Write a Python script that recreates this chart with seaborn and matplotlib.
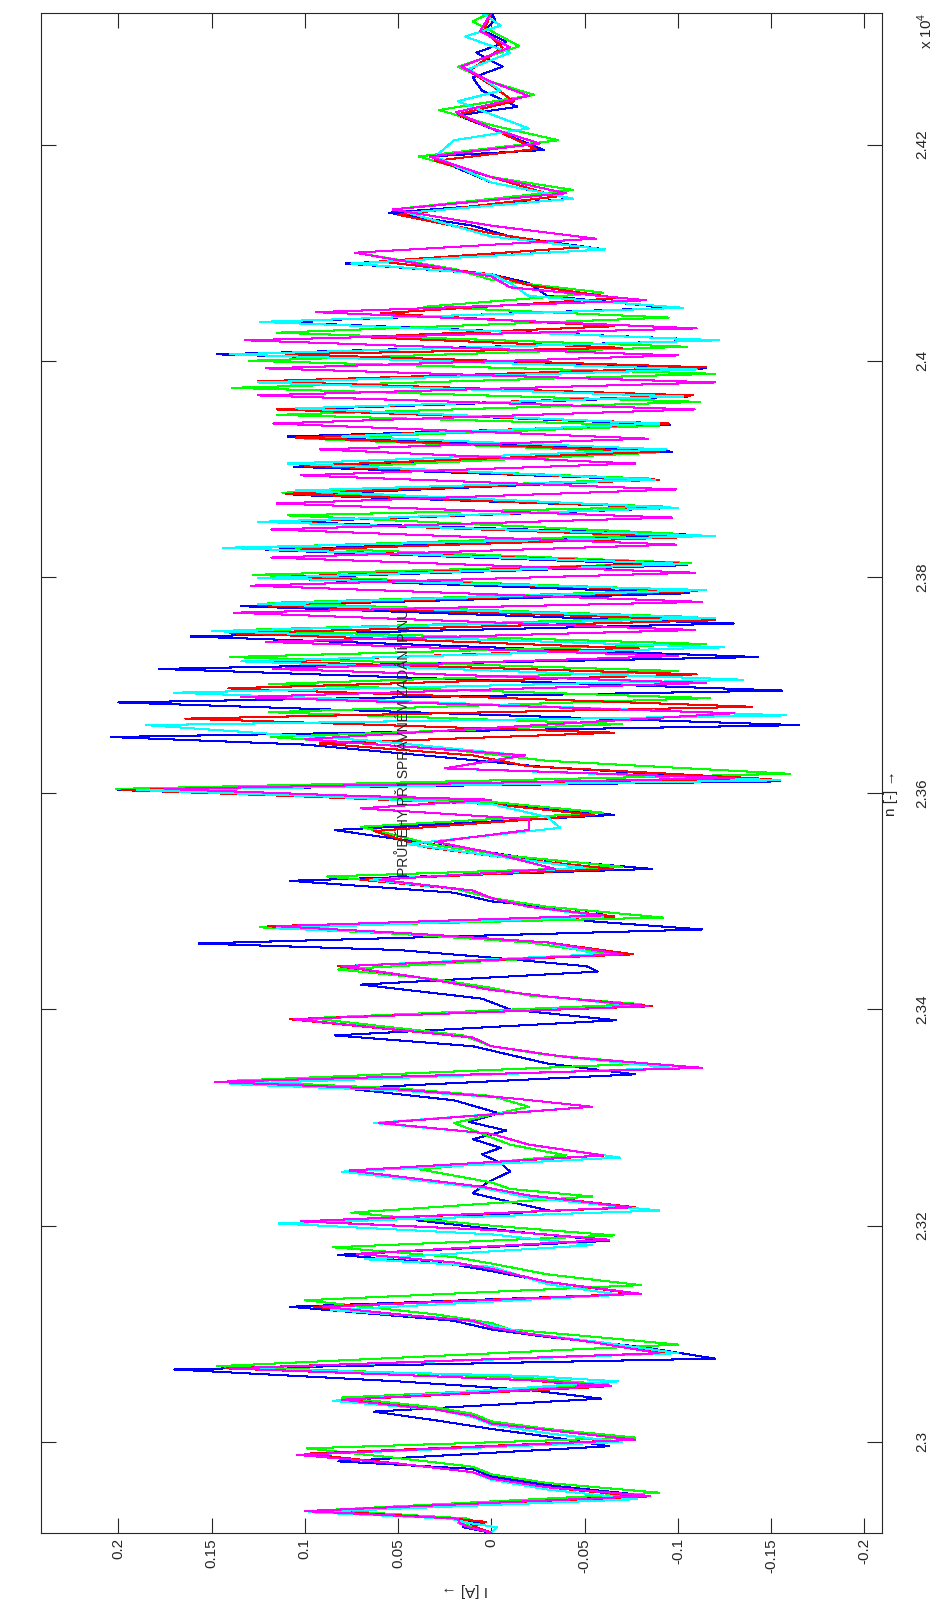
import numpy as np
import pandas as pd
import matplotlib
matplotlib.use("Agg")
import matplotlib.pyplot as plt
import seaborn as sns

# ---------------- data (sample index n, current I [A]) ----------------
n_blue = [22916, 22921, 22925, 22929, 22936, 22951, 22960, 22968, 22975, 22982, 22996, 23005, 23012, 23020, 23028,
          23040, 23048, 23056, 23067, 23077,
          23088, 23097, 23104, 23112, 23125, 23137, 23148, 23158, 23164, 23173, 23186, 23195, 23205, 23214, 23222,
          23230, 23240, 23250, 23258,
          23266, 23272, 23280, 23288, 23296, 23304, 23316, 23327, 23340, 23350, 23358, 23366, 23376, 23390, 23400,
          23410, 23423, 23435,
          23440, 23448, 23455, 23461, 23474, 23482, 23490, 23500, 23508, 23519, 23530, 23540, 23550, 23566, 23580,
          23590, 23596, 23603, 23611,
          23624, 23634, 23645, 23652, 23663, 23684, 23695, 23715, 23726, 23745, 23757, 23773, 23785,
          23799, 23811, 23825, 23839, 23851, 23864, 23876, 23890, 23902, 23916, 23930, 23941, 23955, 23967,
          23980, 23993, 24006, 24019, 24036, 24049, 24060, 24072, 24080, 24090, 24103, 24115, 24125, 24137, 24150,
          24165, 24189, 24195, 24215, 24227, 24235, 24250, 24262, 24272, 24285, 24295, 24305, 24315, 24322]
i_blue = [0.000, 0.015, 0.005, 0.022, 0.085, -0.080, -0.030, 0.000, 0.010, 0.082, -0.063, -0.030, 0.000, 0.030, 0.063,
          -0.059, -0.020, 0.050, 0.170, -0.120,
          -0.080, -0.030, 0.000, 0.020, 0.108, -0.080, -0.030, 0.000, 0.020, 0.082, -0.063, -0.010, 0.040, -0.031, -0.010,
          0.010, 0.002, -0.010, -0.005,
          0.005, -0.005, 0.010, -0.008, 0.012, -0.004, 0.020, 0.078, -0.077, -0.030, -0.010, 0.010, 0.084, -0.067, -0.010,
          0.005, 0.070, -0.057,
          -0.051, 0.000, 0.050, 0.157, -0.113, -0.050, -0.060, 0.000, 0.020, 0.108, -0.086, -0.020, 0.020, 0.084, -0.066,
          0.000, 0.080, 0.200, -0.155,
          -0.030, 0.030, 0.100, 0.204, -0.165, 0.200, -0.156, 0.178, -0.143, 0.161, -0.130, 0.134, -0.106,
          0.118, -0.105, 0.121, -0.110, 0.110, -0.100, 0.106, -0.086, 0.106, -0.097, 0.109, -0.096, 0.106, -0.105,
          0.125, -0.115, 0.147, -0.122, 0.117, -0.096, -0.030, -0.020, 0.000, 0.078, -0.061, -0.010, 0.010, 0.055, -0.044,
          0.000, 0.033, -0.028, 0.000, 0.018, -0.014, 0.005, 0.010, -0.006, 0.008, -0.008, 0.004, -0.002, 0.000]

n_green = [22916, 22921, 22925, 22929, 22937, 22953, 22962, 22970, 22977, 22985, 22994, 23004, 23012, 23019, 23026,
           23032, 23041, 23053, 23059, 23064, 23070, 23090,
           23098, 23104, 23110, 23118, 23131, 23145, 23155, 23165, 23171, 23180, 23191, 23200, 23212, 23227, 23234,
           23240, 23252, 23265,
           23275, 23285, 23295, 23310, 23320, 23327, 23334, 23350, 23358, 23366, 23376, 23392, 23405, 23413, 23420,
           23428, 23437,
           23451, 23462, 23470, 23476, 23485, 23495, 23503, 23512, 23523, 23532, 23542, 23552, 23569, 23582, 23592,
           23598, 23604, 23618,
           23630, 23640, 23652, 23664, 23675, 23688, 23701, 23713, 23726, 23738, 23751, 23763, 23776, 23788,
           23802, 23813, 23828, 23840, 23857, 23865, 23878, 23891, 23902, 23915, 23928, 23940, 23950, 23962,
           23975, 23988, 24000, 24013, 24026, 24040, 24050, 24063, 24075, 24085, 24100, 24113, 24125, 24140, 24158,
           24170, 24189, 24204, 24218, 24232, 24246, 24258, 24272, 24291, 24305, 24314, 24322]
i_green = [0.000, 0.008, 0.018, 0.012, 0.088, -0.090, -0.030, 0.000, 0.010, 0.050, 0.099, -0.077, -0.030, 0.000, 0.010,
           0.030, 0.080, -0.063, -0.020, 0.050, 0.147, -0.100,
           -0.050, -0.010, 0.000, 0.030, 0.100, -0.080, -0.030, 0.000, 0.020, 0.085, -0.066, 0.000, 0.075, -0.054, -0.010,
           0.000, 0.038, -0.040,
           -0.010, 0.005, 0.020, -0.020, 0.000, 0.050, 0.140, -0.083, -0.030, 0.000, 0.015, 0.097, -0.080, -0.020, 0.000,
           0.030, 0.082,
           -0.063, -0.020, 0.050, 0.124, -0.092, -0.030, 0.000, 0.020, 0.088, -0.070, -0.010, 0.030, 0.070, -0.060, 0.000,
           0.100, 0.201, -0.160,
           -0.030, 0.020, 0.118, -0.070, 0.119, -0.117, 0.119, -0.100, 0.140, -0.115, 0.135, -0.110, 0.120, -0.105,
           0.128, -0.107, 0.115, -0.100, 0.109, -0.095, 0.112, -0.086, 0.080, -0.088, 0.100, -0.090, 0.115, -0.112,
           0.139, -0.120, 0.130, -0.105, 0.115, -0.095, 0.036, -0.060, 0.000, 0.020, 0.073, -0.056, 0.000, 0.053, -0.044,
           0.000, 0.039, -0.036, 0.000, 0.028, -0.023, 0.000, 0.018, -0.015, 0.000, 0.010, 0.000]

n_red = [22916, 22922, 22926, 22929, 22936, 22949, 22958, 22966, 22972, 22980, 22989, 23002, 23010, 23017, 23024,
         23030, 23039, 23051, 23057, 23062, 23068, 23082,
         23092, 23100, 23106, 23112, 23118, 23125, 23137, 23148, 23160, 23166, 23174, 23187, 23196, 23204, 23217,
         23228, 23236, 23251, 23265,
         23275, 23285, 23295, 23310, 23318, 23326, 23333, 23346, 23356, 23366, 23374, 23391, 23403, 23412, 23418,
         23430, 23440,
         23451, 23462, 23470, 23477, 23486, 23495, 23503, 23510, 23520, 23530, 23540, 23550, 23565, 23580, 23590,
         23597, 23603, 23613,
         23625, 23635, 23646, 23656, 23669, 23680, 23697, 23710, 23722, 23734, 23748, 23760, 23774, 23787,
         23800, 23813, 23825, 23837, 23851, 23864, 23877, 23890, 23903, 23916, 23929, 23942, 23955, 23968,
         23981, 23994, 24006, 24012, 24022, 24032, 24044, 24058, 24070, 24080, 24092, 24105, 24118, 24135, 24152,
         24170, 24185, 24196, 24215, 24228, 24240, 24255, 24268, 24290, 24305, 24322]
i_red = [0.000, 0.010, 0.003, 0.020, 0.088, -0.083, -0.030, 0.000, 0.010, 0.050, 0.100, -0.077, -0.035, 0.000, 0.010,
         0.030, 0.078, -0.060, -0.020, 0.050, 0.142, -0.095,
         -0.060, -0.020, 0.000, 0.010, 0.050, 0.095, -0.077, -0.030, 0.000, 0.020, 0.072, -0.063, 0.000, 0.100, -0.077,
         -0.020, 0.005, 0.076, -0.061,
         -0.020, 0.000, 0.063, -0.054, -0.010, 0.050, 0.148, -0.113, -0.040, 0.000, 0.010, 0.108, -0.086, -0.030, 0.000,
         0.040, 0.082,
         -0.076, -0.030, 0.040, 0.120, -0.066, -0.020, 0.000, 0.010, 0.070, -0.065, -0.010, 0.035, 0.063, -0.055, 0.000,
         0.100, 0.198, -0.150,
         -0.020, 0.010, 0.092, -0.066, 0.164, -0.140, 0.141, -0.110, 0.120, -0.079, 0.140, -0.120, 0.125, -0.110,
         0.115, -0.100, 0.109, -0.107, 0.118, -0.098, 0.110, -0.090, 0.100, -0.090, 0.105, -0.095, 0.115, -0.108,
         0.125, -0.115, 0.110, -0.070, 0.070, -0.066, 0.059, -0.068, -0.020, 0.000, 0.060, -0.048, 0.000, 0.050, -0.035,
         0.000, 0.030, -0.024, 0.000, 0.018, -0.012, 0.000, 0.012, -0.006, 0.004, 0.000]

n_cyan = [22916, 22921, 22925, 22929, 22935, 22947, 22956, 22965, 22972, 22980, 22988, 23000, 23008, 23016, 23023,
          23030, 23038, 23056, 23061, 23064, 23068, 23082,
          23092, 23100, 23108, 23114, 23122, 23136, 23146, 23162, 23169, 23182, 23192, 23202, 23214, 23226, 23235,
          23250, 23263,
          23275, 23285, 23295, 23310, 23318, 23325, 23331, 23346, 23356, 23366, 23374, 23391, 23403, 23412, 23418,
          23430, 23440,
          23451, 23462, 23470, 23475, 23486, 23495, 23503, 23510, 23520, 23531, 23540, 23553, 23568, 23578, 23590,
          23597, 23603, 23612,
          23623, 23635, 23648, 23663, 23672, 23693, 23705, 23722, 23735, 23750, 23762, 23775, 23788,
          23799, 23812, 23827, 23838, 23851, 23864, 23880, 23890, 23905, 23918, 23930, 23942, 23956, 23967,
          23980, 23992, 24006, 24019, 24036, 24049, 24060, 24072, 24080, 24090, 24103, 24115, 24137, 24150,
          24165, 24189, 24204, 24215, 24228, 24240, 24250, 24270, 24285, 24300, 24310, 24322]
i_cyan = [0.000, -0.003, 0.012, 0.022, 0.098, -0.078, -0.030, 0.000, 0.010, 0.050, 0.104, -0.070, -0.030, 0.000, 0.010,
          0.030, 0.085, -0.068, -0.020, 0.050, 0.140, -0.100,
          -0.060, -0.020, 0.000, 0.020, 0.086, -0.069, -0.030, 0.000, 0.068, -0.054, 0.000, 0.114, -0.090, -0.020, 0.005,
          0.080, -0.069,
          -0.020, 0.000, 0.063, -0.054, -0.010, 0.050, 0.140, -0.097, -0.040, 0.000, 0.010, 0.105, -0.080, -0.030, 0.000,
          0.040, 0.080,
          -0.057, -0.030, 0.040, 0.115, -0.060, -0.020, 0.000, 0.010, 0.065, -0.050, -0.010, 0.045, -0.037, -0.030, 0.000,
          0.090, 0.190, -0.155,
          0.025, -0.017, 0.060, 0.185, -0.158, 0.170, -0.135, 0.134, -0.125, 0.150, -0.120, 0.125, -0.115,
          0.125, -0.105, 0.144, -0.120, 0.125, -0.100, 0.105, -0.088, 0.109, -0.094, 0.080, -0.090, 0.105, -0.103,
          0.125, -0.110, 0.140, -0.122, 0.124, -0.103, -0.020, -0.010, 0.000, 0.075, -0.061, 0.000, 0.045, -0.044,
          0.000, 0.030, 0.020, -0.020, 0.000, 0.018, -0.005, 0.012, -0.010, 0.014, -0.005, 0.005]

n_magenta = [22916, 22921, 22925, 22929, 22936, 22950, 22958, 22966, 22972, 22980, 22988, 23002, 23010, 23017, 23024,
             23030, 23039, 23052, 23057, 23062, 23068, 23082,
             23092, 23100, 23106, 23112, 23118, 23125, 23137, 23148, 23160, 23166, 23174, 23187, 23196, 23204, 23217,
             23228, 23236, 23251, 23265,
             23275, 23285, 23295, 23310, 23318, 23326, 23333, 23346, 23356, 23366, 23374, 23391, 23403, 23412, 23418,
             23430, 23440,
             23451, 23462, 23470, 23477, 23487, 23495, 23503, 23510, 23520, 23530, 23545, 23555, 23566, 23576, 23586,
             23594, 23598, 23604, 23614,
             23623, 23635, 23650, 23674, 23689, 23702, 23715, 23727, 23740, 23751, 23767, 23777, 23792,
             23804, 23818, 23830, 23844, 23855, 23868, 23881, 23894, 23905, 23918, 23928, 23942, 23955,
             23968, 23980, 23993, 24005, 24019, 24030, 24045, 24056, 24068, 24078, 24100, 24113, 24125, 24140, 24155,
             24170, 24189, 24201, 24215, 24230, 24245, 24258, 24272, 24290, 24305, 24322]
i_magenta = [0.000, 0.012, 0.017, 0.018, 0.100, -0.085, -0.030, 0.000, 0.010, 0.050, 0.104, -0.077, -0.035, 0.000, 0.010,
             0.030, 0.080, -0.064, -0.020, 0.050, 0.140, -0.090,
             -0.055, -0.020, 0.000, 0.010, 0.050, 0.090, -0.080, -0.030, 0.000, 0.020, 0.072, -0.063, 0.000, 0.102, -0.075,
             -0.020, 0.005, 0.076, -0.060,
             -0.020, 0.000, 0.060, -0.054, -0.010, 0.050, 0.148, -0.113, -0.040, 0.000, 0.010, 0.106, -0.084, -0.030, 0.000,
             0.040, 0.080,
             -0.070, -0.030, 0.040, 0.115, -0.060, -0.020, 0.000, 0.010, 0.060, -0.034, 0.000, 0.030, -0.020, -0.020, 0.070,
             0.000, 0.080, 0.175, -0.130,
             0.025, -0.018, 0.100, -0.130, 0.134, -0.115, 0.117, -0.100, 0.121, -0.109, 0.138, -0.113, 0.129,
             -0.109, 0.118, -0.099, 0.118, -0.097, 0.115, -0.099, 0.102, -0.077, 0.092, -0.084, 0.117, -0.109,
             0.125, -0.120, 0.121, -0.100, 0.132, -0.110, 0.094, -0.083, -0.010, 0.000, 0.073, -0.056, 0.000, 0.053, -0.040,
             0.000, 0.033, -0.026, 0.000, 0.019, -0.020, 0.000, 0.016, -0.010, 0.006, 0.000]

series_names = ["blue", "green", "red", "cyan", "magenta"]
series_colors = ["#0000ff", "#00ff00", "#ff0000", "#00ffff", "#ff00ff"]
series_n = [n_blue, n_green, n_red, n_cyan, n_magenta]
series_i = [i_blue, i_green, i_red, i_cyan, i_magenta]

i_ticks = [0.2, 0.15, 0.1, 0.05, 0.0, -0.05, -0.1, -0.15, -0.2]
i_tick_labels = ["0.2", "0.15", "0.1", "0.05", "0", "-0.05", "-0.1", "-0.15", "-0.2"]
n_ticks = [23000, 23200, 23400, 23600, 23800, 24000, 24200]
n_tick_labels = ["2.3", "2.32", "2.34", "2.36", "2.38", "2.4", "2.42"]
title_text = "PRŮBĚHY PŘI SPRÁVNÉM ZADÁNÍ PINU"
n_label = "n [-] \u2192"
i_label = "I [A] \u2192"
exp_label = r"x 10$^{4}$"

# ---------------- plotting ----------------
sns.set_style("white")
plt.rcParams["font.family"] = ["Liberation Sans", "DejaVu Sans"]
plt.rcParams["mathtext.fontset"] = "custom"
plt.rcParams["mathtext.rm"] = "Liberation Sans"

W, H = 939, 1605
fig = plt.figure(figsize=(W / 100, H / 100), dpi=100)
fig.patch.set_facecolor("white")
ax = fig.add_axes([41 / W, 1 - 1532.7 / H, (882 - 41) / W, (1532.7 - 12.7) / H])

for name, col, nn, ii in zip(series_names, series_colors, series_n, series_i):
    df = pd.DataFrame({"I": ii, "n": nn})
    sns.lineplot(data=df, x="I", y="n", sort=False, estimator=None, color=col,
                 linewidth=0.75, antialiased=False, ax=ax, legend=False)

ax.set_xlim(0.2414, -0.2094)
ax.set_ylim(22916, 24322)
ax.set_xlabel("")
ax.set_ylabel("")

ax.set_xticks(i_ticks)
ax.set_xticklabels(i_tick_labels, rotation=90, va="top", ha="center")
ax.set_yticks(n_ticks)
ax.set_yticklabels(n_tick_labels, rotation=90, va="center", ha="left")
ax.tick_params(axis="x", which="both", direction="in", length=11, width=0.8,
               top=True, bottom=True, labelbottom=True, labeltop=False,
               labelsize=11, pad=4, colors="#262626")
ax.tick_params(axis="y", which="both", direction="in", length=11, width=0.8,
               left=True, right=True, labelleft=False, labelright=True,
               labelsize=11, pad=24, colors="#262626")
for lab in ax.get_xticklabels() + ax.get_yticklabels():
    lab.set_color("#262626")
for sp in ax.spines.values():
    sp.set_visible(True)
    sp.set_linewidth(0.8)
    sp.set_color("#262626")

def px(x, y):
    return x / W, 1 - y / H

fig.text(*px(404, 742), title_text, rotation=90, ha="center", va="center",
         fontsize=10, color="#262626")
fig.text(*px(891, 793), n_label, rotation=90, ha="center", va="center",
         fontsize=11, color="#262626")
fig.text(*px(465, 1590), i_label, rotation=180, ha="center", va="center",
         fontsize=11, color="#262626")
fig.text(*px(925, 31), exp_label, rotation=90, ha="center", va="center",
         fontsize=11, color="#262626")

fig.savefig("out.png", dpi=100, facecolor="white")
